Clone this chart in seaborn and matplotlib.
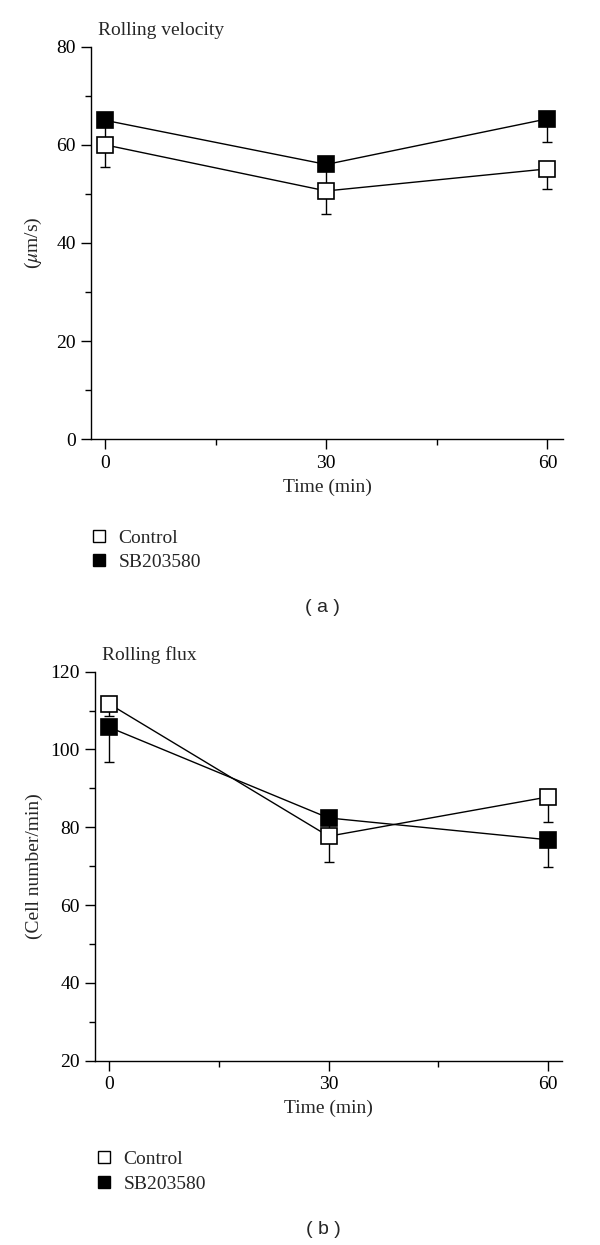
import numpy as np
import pandas as pd
import matplotlib
matplotlib.use("Agg")
import matplotlib.pyplot as plt
from matplotlib.lines import Line2D
from matplotlib.ticker import MultipleLocator
import seaborn as sns

# ---- data ----
times = [0, 30, 60]
series = ["Control", "SB203580"]

vel_control = [60.0, 50.6, 55.1]
vel_control_err = [4.6, 4.6, 4.2]
vel_sb = [65.0, 56.0, 65.3]
vel_sb_err = [6.0, 4.0, 4.7]

flux_control = [111.7, 77.7, 87.8]
flux_control_err = [3.0, 6.7, 6.4]
flux_sb = [105.7, 82.4, 76.8]
flux_sb_err = [9.0, 5.1, 7.1]

x_ticks = [0, 30, 60]
vel_yticks = [0, 20, 40, 60, 80]
flux_yticks = [20, 40, 60, 80, 100, 120]

sns.set_theme(style="ticks")
plt.rcParams["font.family"] = ["Liberation Serif", "DejaVu Serif"]
plt.rcParams["mathtext.fontset"] = "stix"

FS = 14

fig = plt.figure(figsize=(6.0, 12.45), dpi=100)
ax1 = fig.add_axes([0.1517, 0.6472, 0.9383 - 0.1517, 0.9625 - 0.6472])
ax2 = fig.add_axes([0.1583, 0.1480, 0.9362 - 0.1583, 0.4605 - 0.1480])

face = {"Control": "white", "SB203580": "black"}


def draw(ax, ctrl, ctrl_err, sb, sb_err):
    for name, vals, errs in [("Control", ctrl, ctrl_err), ("SB203580", sb, sb_err)]:
        ax.errorbar(times, vals, yerr=[errs, [0] * len(errs)], fmt="none",
                    ecolor="black", elinewidth=1.0, capsize=3.5, capthick=1.0, zorder=2)
        df = pd.DataFrame({"t": times, "v": vals})
        sns.lineplot(data=df, x="t", y="v", ax=ax, color="black", lw=1.0,
                     marker="s", markersize=12, markerfacecolor=face[name],
                     markeredgecolor="black", markeredgewidth=1.2, zorder=3)
    for s in ["top", "right"]:
        ax.spines[s].set_visible(False)
    for s in ["left", "bottom"]:
        ax.spines[s].set_linewidth(1.0)
        ax.spines[s].set_color("black")
    ax.set_xticks(x_ticks)
    ax.xaxis.set_minor_locator(MultipleLocator(15))
    ax.tick_params(axis="both", which="major", direction="out", length=7, width=1.0,
                   labelsize=FS, colors="black", pad=4)
    ax.tick_params(axis="both", which="minor", direction="out", length=4, width=1.0,
                   colors="black")
    ax.set_xlabel("Time (min)", fontsize=FS, labelpad=5)


draw(ax1, vel_control, vel_control_err, vel_sb, vel_sb_err)
ax1.set_xlim(-1.9, 62.1)
ax1.set_ylim(0, 80)
ax1.set_yticks(vel_yticks)
ax1.yaxis.set_minor_locator(MultipleLocator(10))
ax1.set_ylabel(r"($\mu$m/s)", fontsize=FS, labelpad=9)
ax1.text(0.014, 1.04, "Rolling velocity", transform=ax1.transAxes, fontsize=FS,
         ha="left", va="center")

draw(ax2, flux_control, flux_control_err, flux_sb, flux_sb_err)
ax2.set_xlim(-1.96, 61.9)
ax2.set_ylim(20, 120)
ax2.set_yticks(flux_yticks)
ax2.yaxis.set_minor_locator(MultipleLocator(10))
ax2.set_ylabel("(Cell number/min)", fontsize=FS, labelpad=5)
ax2.text(0.014, 1.043, "Rolling flux", transform=ax2.transAxes, fontsize=FS,
         ha="left", va="center")

for ax in (ax1, ax2):
    leg = ax.get_legend()
    if leg is not None:
        leg.remove()

handles = [Line2D([], [], ls="none", marker="s", markersize=9.2, markerfacecolor=face[n],
                  markeredgecolor="black", markeredgewidth=1.0) for n in series]

leg_kw = dict(loc="upper left", frameon=False, fontsize=FS, handlelength=0.8,
              handletextpad=0.6, labelspacing=0.36, borderaxespad=0, borderpad=0)
fig.legend(handles, series, bbox_to_anchor=(91.5 / 600, 1 - 529.0 / 1245), **leg_kw)
fig.legend(handles, series, bbox_to_anchor=(96.5 / 600, 1 - 1150.6 / 1245), **leg_kw)

fig.text(322 / 600, 1 - 608 / 1245, "( a )", ha="center", va="center",
         fontsize=14, family=["Liberation Sans", "DejaVu Sans"])
fig.text(323 / 600, 1 - 1230 / 1245, "( b )", ha="center", va="center",
         fontsize=14, family=["Liberation Sans", "DejaVu Sans"])

fig.savefig("out.png", dpi=100, facecolor="white")
